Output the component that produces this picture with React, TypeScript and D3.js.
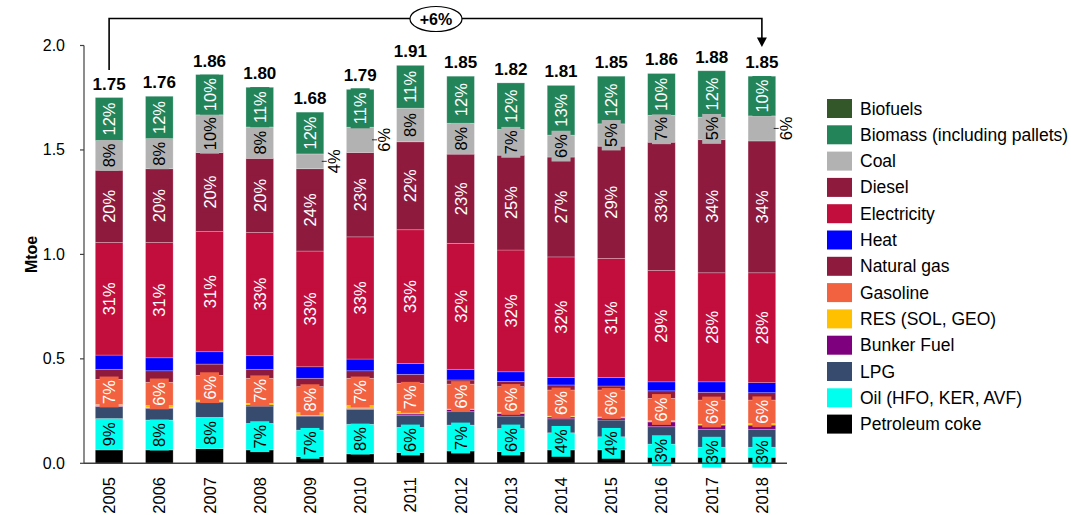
import React from "react";
import * as d3 from "d3";

const years = ["2005","2006","2007","2008","2009","2010","2011","2012","2013","2014","2015","2016","2017","2018"];
const totalLabels = ["1.75","1.76","1.86","1.80","1.68","1.79","1.91","1.85","1.82","1.81","1.85","1.86","1.88","1.85"];
const yTicks = [0, 0.5, 1.0, 1.5, 2.0];

// Series values (Mtoe), bottom to top of stack
const petcoke = [0.064,0.064,0.070,0.064,0.032,0.045,0.051,0.059,0.056,0.064,0.064,0.029,0.029,0.029];
const oil = [0.150,0.143,0.150,0.127,0.127,0.142,0.121,0.124,0.111,0.082,0.063,0.063,0.048,0.048];
const lpg = [0.057,0.056,0.073,0.083,0.067,0.071,0.056,0.064,0.059,0.067,0.080,0.083,0.086,0.086];
const bunker = [0.003,0.003,0.003,0.005,0.003,0.005,0.008,0.011,0.013,0.009,0.010,0.023,0.020,0.020];
const res = [0.007,0.010,0.007,0.008,0.013,0.013,0.013,0.002,0.005,0.004,0.005,0.006,0.005,0.007];
const gasoline = [0.121,0.112,0.118,0.120,0.125,0.131,0.134,0.119,0.123,0.125,0.129,0.107,0.115,0.113];
const natgas = [0.048,0.055,0.054,0.043,0.040,0.036,0.043,0.020,0.025,0.024,0.019,0.036,0.037,0.035];
const heat = [0.068,0.062,0.059,0.065,0.055,0.056,0.052,0.051,0.046,0.036,0.041,0.043,0.050,0.048];
const electricity = [0.539,0.552,0.575,0.590,0.554,0.585,0.640,0.603,0.583,0.577,0.570,0.533,0.522,0.526];
const diesel = [0.346,0.353,0.379,0.355,0.394,0.404,0.421,0.427,0.454,0.478,0.537,0.614,0.637,0.631];
const coal = [0.142,0.144,0.180,0.150,0.071,0.121,0.161,0.148,0.123,0.105,0.107,0.129,0.108,0.120];
const biomass = [0.206,0.203,0.193,0.190,0.200,0.181,0.205,0.225,0.223,0.238,0.228,0.200,0.222,0.190];
const biofuels = [0,0,0,0,0,0,0,0,0,0,0,0,0,0];

// Percentage labels as printed
const oilPct = [9,8,8,7,7,8,6,7,6,4,4,3,3,3];
const gasolinePct = [7,6,6,7,8,7,7,6,6,6,6,6,6,6];
const electricityPct = [31,31,31,33,33,33,33,32,32,32,31,29,28,28];
const dieselPct = [20,20,20,20,24,23,22,23,25,27,29,33,34,34];
const coalPct = [8,8,10,8,4,6,8,8,7,6,5,7,5,6];
const biomassPct = [12,12,10,11,12,11,11,12,12,13,12,10,12,10];
const coalOutside = ["2009","2010","2018"];
const changeLabel = "+6%";

const series = [
  { key: "Petroleum coke", values: petcoke, color: "#000000" },
  { key: "Oil (HFO, KER, AVF)", values: oil, color: "#00FFEE", pct: oilPct, text: "#000" },
  { key: "LPG", values: lpg, color: "#364B6D" },
  { key: "Bunker Fuel", values: bunker, color: "#7E007E" },
  { key: "RES (SOL, GEO)", values: res, color: "#FFC000" },
  { key: "Gasoline", values: gasoline, color: "#F26140", pct: gasolinePct, text: "#fff" },
  { key: "Natural gas", values: natgas, color: "#8E1A3E" },
  { key: "Heat", values: heat, color: "#0000FF" },
  { key: "Electricity", values: electricity, color: "#C20E3C", pct: electricityPct, text: "#fff" },
  { key: "Diesel", values: diesel, color: "#8E1A3E", pct: dieselPct, text: "#fff" },
  { key: "Coal", values: coal, color: "#B2B2B2", pct: coalPct, text: "#000" },
  { key: "Biomass (including pallets)", values: biomass, color: "#23845A", pct: biomassPct, text: "#fff" },
  { key: "Biofuels", values: biofuels, color: "#34572A" },
];

const W = 1071, H = 515;
const FONT = "'Liberation Sans', Arial, Helvetica, sans-serif";

function pctWidth(s: string, fs: number) {
  let w = 0;
  for (const c of s) w += c === "%" ? 0.889 : 0.556;
  return w * fs;
}

export default function App() {
  const x = d3.scaleBand().domain(years).range([84, 787]).paddingInner(0.45).paddingOuter(0.225);
  const y = d3.scaleLinear().domain([0, 2]).range([463.3, 45.5]);

  const rows = years.map((yr, i) => {
    const r: any = { year: yr };
    series.forEach((s) => (r[s.key] = s.values[i]));
    return r;
  });
  const stack = d3.stack().keys(series.map((s) => s.key))(rows);

  const bw = x.bandwidth();
  const fs = 16.5;

  const segs: any[] = [];
  const labels: any[] = [];
  stack.forEach((layer, li) => {
    const s: any = series[li];
    layer.forEach((d: any, i: number) => {
      const yr = years[i];
      const y0 = y(d[0]), y1 = y(d[1]);
      if (d[1] - d[0] > 0) {
        segs.push(
          <rect key={s.key + yr} x={x(yr)} y={y1} width={bw} height={y0 - y1}
            fill={s.color} stroke="#ffffff" strokeOpacity={0.35} strokeWidth={0.7} />
        );
      }
      if (s.pct) {
        const txt = s.pct[i] + "%";
        const cy = (y0 + y1) / 2;
        const cx = (x(yr) as number) + bw / 2;
        if (s.key === "Coal" && coalOutside.includes(yr)) {
          const rx = (x(yr) as number) + bw;
          labels.push(
            <g key={"l" + s.key + yr}>
              <line x1={rx - 2} x2={rx + 3} y1={cy} y2={cy} stroke="#000" strokeWidth={0.8} />
              <text transform={`translate(${rx + 10},${cy}) rotate(-90)`} textAnchor="middle"
                dominantBaseline="central" fontSize={fs} fontFamily={FONT} fill="#000">{txt}</text>
            </g>
          );
        } else {
          const tw = pctWidth(txt, fs) + 7;
          const th = 19;
          labels.push(
            <g key={"l" + s.key + yr}>
              <rect x={cx - th / 2} y={cy - tw / 2} width={th} height={tw} fill={s.color} />
              <text transform={`translate(${cx},${cy}) rotate(-90)`} textAnchor="middle"
                dominantBaseline="central" fontSize={fs} fontFamily={FONT} fill={s.text}>{txt}</text>
            </g>
          );
        }
      }
    });
  });

  const top = stack[stack.length - 1];
  const xFirst = (x(years[0]) as number) + bw / 2;
  const xLast = (x(years[years.length - 1]) as number) + bw / 2;
  const lineY = 18.5;

  const legendItems = series.slice().reverse();

  return (
    <div style={{ position: "absolute", left: 0, top: 0 }}>
      <svg width={W} height={H} style={{ display: "block", background: "#fff" }}>
        {segs}
        {labels}
        {/* totals */}
        {top.map((d: any, i: number) => (
          <text key={"t" + i} x={(x(years[i]) as number) + bw / 2} y={y(d[1]) - 8}
            textAnchor="middle" fontSize={17} fontWeight="bold" fontFamily={FONT} fill="#000">
            {totalLabels[i]}
          </text>
        ))}
        {/* y axis */}
        <line x1={84} x2={84} y1={y(2)} y2={y(0)} stroke="#404040" strokeWidth={1.2} />
        {yTicks.map((t) => (
          <g key={"yt" + t}>
            <line x1={80} x2={84} y1={y(t)} y2={y(t)} stroke="#404040" strokeWidth={1.2} />
            <text x={65} y={y(t)} textAnchor="end" dominantBaseline="central" fontSize={16} fontFamily={FONT} fill="#000">
              {d3.format(".1f")(t)}
            </text>
          </g>
        ))}
        <line x1={84} x2={787} y1={y(0)} y2={y(0)} stroke="#404040" strokeWidth={1.4} />
        {years.map((yr) => (
          <text key={"x" + yr} transform={`translate(${(x(yr) as number) + bw / 2},477) rotate(-90)`}
            textAnchor="end" dominantBaseline="central" fontSize={16.5} fontFamily={FONT} fill="#000">{yr}</text>
        ))}
        <text transform={`translate(31,${y(1)}) rotate(-90)`} textAnchor="middle" dominantBaseline="central"
          fontSize={16} fontWeight="bold" fontFamily={FONT}>Mtoe</text>
        {/* change annotation */}
        <path d={`M${xFirst},70 V${lineY} H${xLast} V38`} fill="none" stroke="#000" strokeWidth={1.6} />
        <path d={`M${xLast - 5},37.5 L${xLast + 5},37.5 L${xLast},47 Z`} fill="#000" />
        <ellipse cx={436} cy={19} rx={26} ry={12.5} fill="#fff" stroke="#000" strokeWidth={1.2} />
        <text x={436} y={19} textAnchor="middle" dominantBaseline="central" fontSize={16} fontWeight="bold" fontFamily={FONT}>{changeLabel}</text>
        {/* legend */}
        {legendItems.map((s, i) => {
          const ry = 99 + i * 26.3;
          return (
            <g key={"lg" + s.key}>
              <rect x={827} y={ry} width={25} height={19} fill={s.color} />
              <text x={860} y={ry + 9.5} dominantBaseline="central" fontSize={17.5} fontFamily={FONT} fill="#000">{s.key}</text>
            </g>
          );
        })}
      </svg>
    </div>
  );
}
